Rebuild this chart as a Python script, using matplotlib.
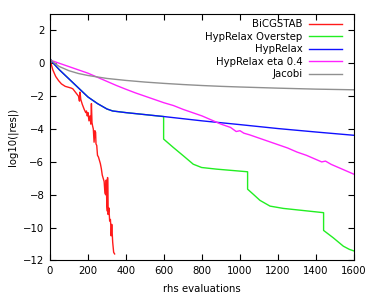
import matplotlib
matplotlib.use('Agg')
import matplotlib.pyplot as plt

# values
bicg_x = [0, 5, 15, 30, 45, 60, 80, 95, 110, 120, 130, 140, 150, 155, 158, 162, 170, 180,
          188, 192, 196, 200, 205, 210, 215, 218, 221, 224, 228, 232, 236, 240, 242, 246,
          250, 255, 260, 265, 270, 275, 280, 285, 289, 293, 296, 299, 302, 303, 306, 310,
          314, 318, 320, 322, 325, 330, 335, 340]
bicg_y = [0.35, 0.0, -0.4, -0.8, -1.05, -1.25, -1.4, -1.45, -1.5, -1.55, -1.7, -1.85, -2.0,
          -2.3, -1.75, -2.2, -2.5, -2.8, -3.0, -2.9, -3.2, -3.0, -3.5, -3.2, -3.7, -2.45,
          -3.6, -3.8, -4.0, -4.8, -4.1, -4.2, -4.9, -5.0, -5.6, -5.7, -5.9, -6.1, -6.4,
          -6.8, -7.0, -7.2, -7.9, -8.0, -7.1, -8.6, -9.0, -6.95, -9.2, -8.8, -9.6, -9.5,
          -9.9, -10.5, -9.8, -10.9, -11.5, -11.6]

hyp_x = [0, 10, 50, 100, 150, 200, 250, 300, 330, 400, 600, 800, 1000, 1200, 1400, 1600]
hyp_y = [0.3, 0.1, -0.4, -0.95, -1.5, -2.05, -2.45, -2.78, -2.9, -3.0, -3.24, -3.5, -3.73,
         -3.97, -4.18, -4.38]

over_x = [0, 10, 50, 100, 150, 200, 250, 300, 330, 400, 598, 598, 649, 702, 754, 798, 877,
          1040, 1040, 1070, 1105, 1158, 1228, 1440, 1440, 1491, 1544, 1575, 1600]
over_y = [0.3, 0.1, -0.4, -0.95, -1.5, -2.05, -2.45, -2.78, -2.9, -3.0, -3.24, -4.61, -5.12,
          -5.63, -6.14, -6.34, -6.44, -6.6, -7.66, -7.97, -8.34, -8.69, -8.83, -9.09, -10.17,
          -10.62, -11.13, -11.32, -11.42]

eta_x = [0, 50, 100, 150, 200, 250, 300, 350, 400, 450, 500, 550, 600, 650, 700, 750, 800,
         850, 900, 950, 980, 1000, 1020, 1050, 1100, 1150, 1200, 1250, 1300, 1350, 1400,
         1430, 1450, 1480, 1500, 1550, 1600]
eta_y = [0.2, 0.0, -0.2, -0.4, -0.6, -0.85, -1.1, -1.35, -1.58, -1.8, -2.0, -2.2, -2.4,
         -2.57, -2.8, -3.0, -3.2, -3.45, -3.7, -3.9, -4.15, -4.1, -4.25, -4.35, -4.55,
         -4.75, -4.95, -5.15, -5.4, -5.6, -5.85, -6.0, -5.95, -6.15, -6.25, -6.5, -6.75]

jac_x = [0, 25, 50, 100, 150, 200, 300, 400, 500, 600, 700, 800, 900, 1000, 1200, 1400, 1600]
jac_y = [0.25, 0.0, -0.2, -0.45, -0.62, -0.74, -0.92, -1.04, -1.14, -1.22, -1.29, -1.35,
         -1.4, -1.44, -1.51, -1.57, -1.61]

xticks = [0, 200, 400, 600, 800, 1000, 1200, 1400, 1600]
yticks = [2, 0, -2, -4, -6, -8, -10, -12]

fs = 7.3
fig = plt.figure(figsize=(3.74, 2.99), dpi=100)
ax = fig.add_axes([0.1337, 0.1288, 0.8128, 0.8242])

lw = 1.0
ax.plot(bicg_x, bicg_y, color='#ff1a1a', lw=lw, label='BiCGSTAB')
ax.plot(over_x, over_y, color='#22ee22', lw=lw, label='HypRelax Overstep')
ax.plot(hyp_x, hyp_y, color='#1010ff', lw=lw, label='HypRelax')
ax.plot(eta_x, eta_y, color='#ff22ff', lw=lw, label='HypRelax eta 0.4')
ax.plot(jac_x, jac_y, color='#909090', lw=lw, label='Jacobi')

ax.set_xlim(0, 1600)
ax.set_ylim(-12, 3)
ax.set_xticks(xticks)
ax.set_yticks(yticks)
ax.tick_params(direction='in', length=4, width=0.8, top=True, right=True,
               labelsize=fs, pad=4)
for s in ax.spines.values():
    s.set_linewidth(0.8)

ax.set_xlabel('rhs evaluations', fontsize=fs, labelpad=6)
ax.set_ylabel('log10(|res|)', fontsize=fs, labelpad=4)

ax.legend(loc='upper right', frameon=False, markerfirst=False, fontsize=fs,
          handlelength=3.2, handletextpad=0.65, labelspacing=0.25,
          borderaxespad=0.4, bbox_to_anchor=(0.986, 1.012))

fig.savefig('out.png', dpi=100)
